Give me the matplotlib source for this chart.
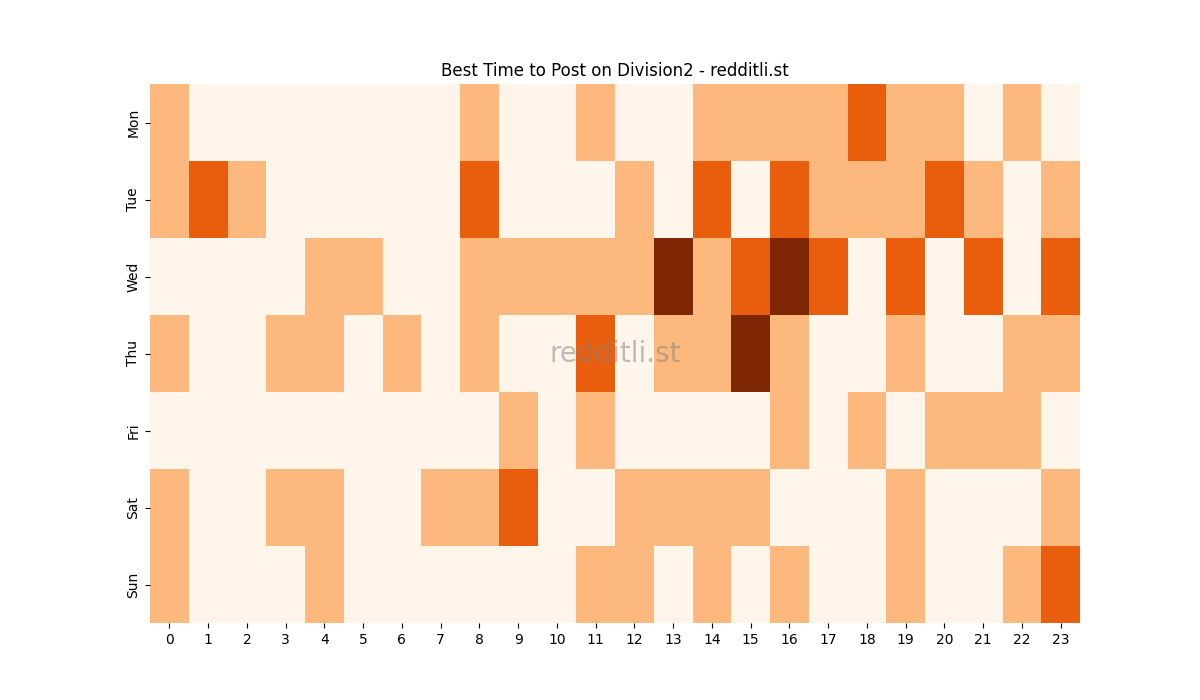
import matplotlib
matplotlib.use("Agg")
import matplotlib.pyplot as plt
import seaborn as sns
import numpy as np

days = ["Mon", "Tue", "Wed", "Thu", "Fri", "Sat", "Sun"]
hours = [str(h) for h in range(24)]
mon = [1,0,0,0,0,0,0,0,1,0,0,1,0,0,1,1,1,1,2,1,1,0,1,0]
tue = [1,2,1,0,0,0,0,0,2,0,0,0,1,0,2,0,2,1,1,1,2,1,0,1]
wed = [0,0,0,0,1,1,0,0,1,1,1,1,1,3,1,2,3,2,0,2,0,2,0,2]
thu = [1,0,0,1,1,0,1,0,1,0,0,2,0,1,1,3,1,0,0,1,0,0,1,1]
fri = [0,0,0,0,0,0,0,0,0,1,0,1,0,0,0,0,1,0,1,0,1,1,1,0]
sat = [1,0,0,1,1,0,0,1,1,2,0,0,1,1,1,1,0,0,0,1,0,0,0,1]
sun = [1,0,0,0,1,0,0,0,0,0,0,1,1,0,1,0,1,0,0,1,0,0,1,2]

data = np.array([mon, tue, wed, thu, fri, sat, sun])

fig, ax = plt.subplots(figsize=(12, 7), dpi=100)
sns.heatmap(data, cmap="Oranges", vmin=0, vmax=3, cbar=False, ax=ax,
            xticklabels=hours, yticklabels=days)
ax.set_title("Best Time to Post on Division2 - redditli.st")
ax.text(0.5, 0.5, "redditli.st", transform=ax.transAxes, ha="center", va="center",
        fontsize=20, color="gray", alpha=0.5)
plt.setp(ax.get_yticklabels(), rotation=90, va="center")
plt.setp(ax.get_xticklabels(), rotation=0)
fig.savefig("out.png")
